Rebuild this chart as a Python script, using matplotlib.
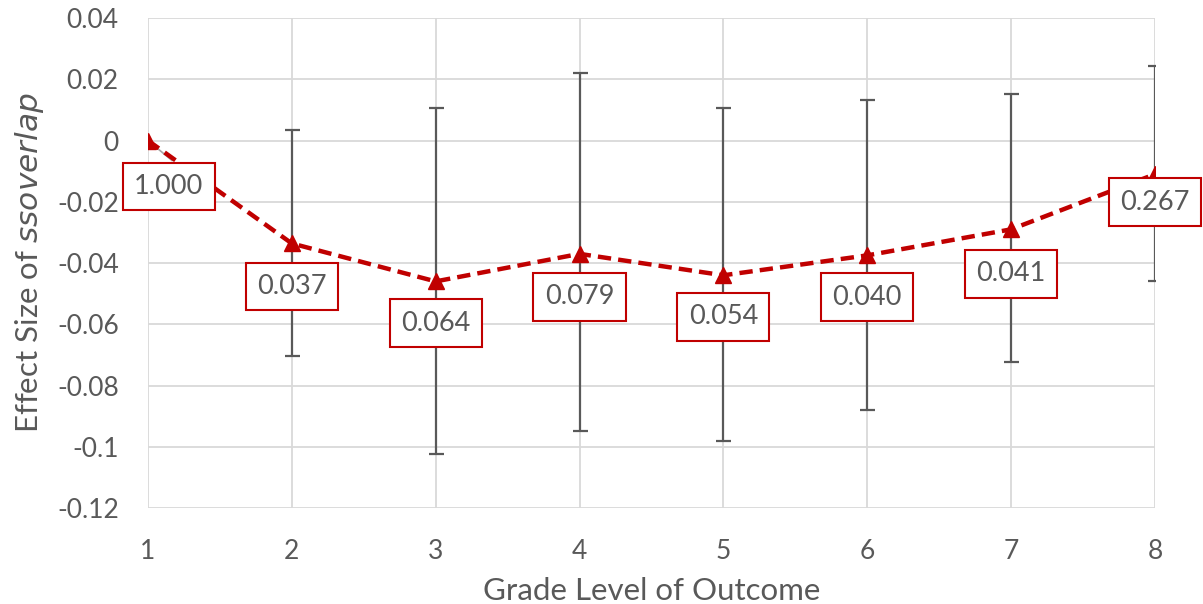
import numpy as np
import matplotlib.pyplot as plt

# effect sizes by grade, with CI bounds and p-values shown in the boxes
grado = [1, 2, 3, 4, 5, 6, 7, 8]
efecto = [0.0, -0.0336, -0.046, -0.037, -0.044, -0.0375, -0.029, -0.011]
ci_sup = [0.0, 0.0036, 0.0108, 0.022, 0.0105, 0.0134, 0.0153, 0.0245]
ci_inf = [0.0, -0.0702, -0.1025, -0.095, -0.098, -0.088, -0.0722, -0.046]
pvalores = ['1.000', '0.037', '0.064', '0.079', '0.054', '0.040', '0.041', '0.267']

rojo = '#C00000'
gris = '#595959'

plt.rcParams['font.family'] = ['Lato', 'DejaVu Sans']

fig = plt.figure(figsize=(12.03, 6.04), dpi=100)
ax = fig.add_axes([0.123, 0.159, 0.837, 0.811])

efecto_a = np.array(efecto)
err = [efecto_a - np.array(ci_inf), np.array(ci_sup) - efecto_a]

# error bars only for grades 2-8
ax.errorbar(grado[1:], efecto[1:], yerr=[err[0][1:], err[1][1:]], fmt='none',
            ecolor=gris, elinewidth=1.6, capsize=5.4, capthick=1.6, zorder=2)

ax.plot(grado, efecto, color=rojo, linestyle=(0, (3, 1.6)), linewidth=3.2,
        marker='^', markersize=12, zorder=3)

# p-value boxes below each point (offsets in points)
desplaz = [(15, -33), (0, -31), (0, -30), (0, -31), (0, -30), (0, -30), (0, -32), (0, -20)]
for x, y, t, (dx, dy) in zip(grado, efecto, pvalores, desplaz):
    ax.annotate(t, (x, y), xytext=(dx, dy), textcoords='offset points',
                ha='center', va='center', fontsize=19.5, color=gris, zorder=4,
                bbox=dict(boxstyle='square,pad=0.42', fc='white', ec=rojo, lw=1.5))
# leader line for the first label
ax.plot([1, 1.167], [0, -0.0065], color='#A6A6A6', lw=1.2, zorder=2.5)

ax.set_xlim(1, 8)
ax.set_ylim(-0.12, 0.04)
ax.set_xticks(grado)
ax.set_yticks(np.arange(-0.12, 0.041, 0.02))
ax.set_yticklabels(['-0.12', '-0.1', '-0.08', '-0.06', '-0.04', '-0.02', '0', '0.02', '0.04'])
ax.grid(True, color='#D9D9D9', linewidth=1.3)
ax.set_axisbelow(True)
for s in ax.spines.values():
    s.set_visible(False)
ax.tick_params(length=0, labelsize=19, colors=gris)
ax.tick_params(axis='y', pad=21)
ax.tick_params(axis='x', pad=22)

ax.set_xlabel('Grade Level of Outcome', fontsize=22.5, color=gris, labelpad=10)
ax.set_ylabel(r'Effect Size of $\mathit{ssoverlap}$', fontsize=22.5, color=gris, labelpad=8)

fig.savefig('out.png', dpi=100)
